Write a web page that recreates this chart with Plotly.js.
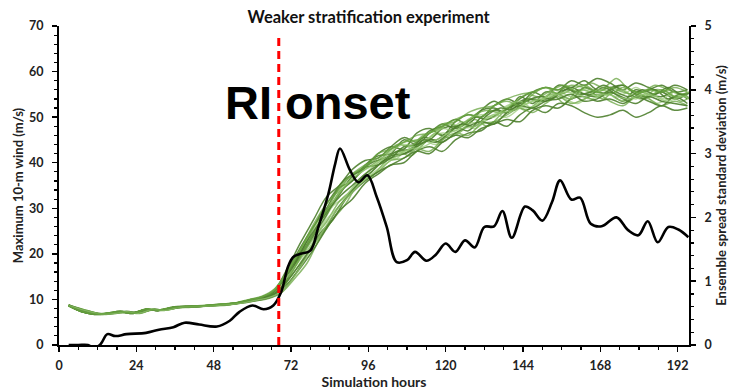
<!DOCTYPE html>
<html>
<head>
<meta charset="utf-8">
<script src="https://cdn.plot.ly/plotly-3.0.1.min.js"></script>
<style>html,body{margin:0;padding:0;background:#fff;}#chart{width:730px;height:391px;}</style>
</head>
<body>
<div id="chart"></div>
<script>
// Ensemble member output hours (two output schedules)
const memberHoursA = [3,7,11,15,19,23,27,31,35,39,43,47,51,55,59,63,67,71,75,79,83,87,91,95,99,103,107,111,115,119,123,127,131,135,139,143,147,151,155,159,163,167,171,175,179,183,187,191,195];
const memberHoursB = [3,9,13,17,21,25,29,33,37,41,45,49,53,57,61,65,69,73,77,81,85,89,93,97,101,105,109,113,117,121,125,129,133,137,141,145,149,153,157,161,165,169,173,177,181,185,189,193,197];

// Maximum 10-m wind of each ensemble member (left axis, m/s)
const m1  = [8.6,7.3,6.8,7.0,7.4,6.9,7.9,7.5,8.3,8.5,8.4,8.8,9.0,9.1,9.9,10.6,12.0,16.5,21.5,26.0,30.0,34.5,36.0,39.5,41.5,42.0,45.0,44.0,46.5,48.5,47.5,49.0,51.5,52.0,51.0,54.5,53.0,55.5,55.0,54.0,56.5,55.5,55.0,53.5,56.0,55.0,54.5,55.5,54.0];
const m2  = [8.8,7.5,6.7,6.9,7.2,7.1,7.7,7.7,8.1,8.3,8.6,8.6,8.8,9.3,9.7,10.2,11.5,14.5,18.0,23.5,27.5,31.0,35.5,37.0,40.0,42.5,41.5,44.0,46.5,45.5,47.0,49.5,48.0,50.5,52.5,51.5,53.5,55.0,53.0,56.0,55.5,54.0,56.5,55.0,54.0,56.0,55.5,53.5,55.0];
const m3  = [8.7,7.4,6.9,6.8,7.3,7.0,7.8,7.6,8.2,8.4,8.5,8.7,9.0,9.2,9.8,10.5,12.2,17.0,22.5,27.5,32.5,35.0,38.5,40.5,41.0,43.5,45.5,44.5,47.0,48.0,49.5,48.5,51.5,53.5,52.0,54.0,55.5,54.5,57.0,56.5,58.0,56.0,56.5,57.0,55.5,56.0,57.0,55.5,56.0];
const m4  = [8.6,7.4,6.8,6.9,7.4,6.9,7.8,7.7,8.2,8.5,8.4,8.7,8.9,9.1,9.6,10.1,11.2,13.5,17.0,21.0,25.5,29.5,32.0,35.5,37.5,39.5,40.0,42.5,43.5,42.5,45.0,46.5,47.0,49.0,48.0,50.5,52.0,51.0,53.0,52.5,51.0,50.0,50.5,51.5,50.0,51.0,52.5,51.5,52.0];
const m5  = [8.7,7.3,6.8,7.0,7.2,7.1,7.8,7.6,8.3,8.3,8.6,8.8,8.9,9.3,9.9,10.7,12.5,16.0,20.5,25.5,30.5,32.5,36.0,38.0,40.5,41.0,44.5,45.0,44.0,46.5,49.0,47.5,49.5,51.0,53.0,52.0,53.0,55.5,54.0,53.0,55.0,56.0,54.0,53.5,55.5,53.0,54.0,55.0,53.0];
const m6  = [8.8,7.5,6.8,6.9,7.3,7.0,7.7,7.6,8.2,8.4,8.5,8.7,8.9,9.2,9.8,10.4,11.9,15.5,19.5,24.0,28.5,33.5,36.0,39.0,42.0,43.5,43.0,46.5,47.5,46.0,49.0,50.5,50.0,52.5,54.0,53.0,55.5,56.5,56.0,58.0,57.0,58.5,57.5,56.0,57.5,56.5,55.5,57.0,56.0];
const m7  = [8.6,7.4,6.7,6.8,7.3,7.0,7.9,7.6,8.1,8.4,8.5,8.6,8.8,9.1,9.7,10.3,11.4,14.8,19.0,23.5,27.0,31.5,34.0,36.5,38.0,40.5,41.0,43.0,42.5,45.0,46.5,46.0,48.5,49.0,50.5,52.0,51.0,53.0,54.5,53.0,54.0,55.0,53.5,52.5,54.5,54.0,52.5,53.5,52.5];
const m8  = [8.7,7.4,6.9,7.0,7.4,7.0,7.8,7.7,8.2,8.5,8.6,8.8,9.0,9.3,10.0,10.8,12.6,17.5,23.0,28.5,33.0,36.5,38.0,40.0,41.0,42.5,43.0,45.5,45.0,47.0,48.5,50.0,49.5,51.0,52.5,54.0,53.5,54.5,56.0,55.5,55.0,56.5,55.0,54.0,55.5,56.0,54.0,55.0,53.5];
const m9  = [8.8,7.4,6.8,6.9,7.2,7.0,7.7,7.6,8.2,8.3,8.5,8.7,8.9,9.2,9.8,10.4,11.7,15.0,19.0,22.5,27.5,30.5,34.5,37.5,40.0,41.5,42.5,43.5,45.5,46.5,46.0,48.5,49.0,50.5,50.0,52.0,53.5,54.0,55.5,54.5,55.0,56.0,55.5,55.0,56.5,55.0,55.5,54.5,55.5];
const m10 = [8.7,7.3,6.8,6.9,7.3,7.1,7.8,7.6,8.2,8.4,8.5,8.7,8.9,9.2,9.8,10.5,12.0,16.0,20.0,24.5,29.5,33.0,37.0,39.0,39.5,41.0,43.5,44.0,45.0,47.5,48.0,47.0,50.0,51.5,51.0,53.0,54.0,53.5,55.0,56.5,55.0,54.5,56.0,57.0,55.0,54.5,55.5,54.0,55.0];
const m11 = [8.6,7.5,6.8,7.0,7.3,6.9,7.8,7.7,8.3,8.4,8.6,8.7,8.9,9.3,9.9,10.6,12.1,16.8,22.0,27.0,31.0,35.0,37.5,39.5,41.5,44.0,43.5,46.0,47.0,48.5,48.0,50.5,51.5,51.0,53.0,55.0,54.5,56.0,57.0,55.5,57.5,56.5,58.5,56.0,55.5,57.0,56.0,55.0,56.0];
const m12 = [8.7,7.4,6.7,6.9,7.2,7.0,7.7,7.6,8.1,8.3,8.4,8.6,8.8,9.1,9.6,10.2,11.3,14.2,18.0,22.0,26.0,30.5,33.5,36.0,38.0,39.5,41.0,42.5,42.0,44.5,46.0,45.5,47.5,48.5,49.5,49.0,51.5,52.5,52.0,54.0,54.5,53.5,54.0,53.0,54.5,53.5,52.5,54.5,53.0];
const m13 = [8.7,7.4,6.8,6.9,7.3,7.0,7.8,7.6,8.2,8.4,8.5,8.8,9.0,9.3,9.9,10.5,12.3,16.2,21.0,25.5,29.0,33.5,36.5,38.5,40.0,42.5,44.0,43.5,45.5,47.5,47.0,49.5,50.5,50.0,52.5,53.5,52.0,54.5,55.0,54.0,56.0,54.5,55.0,56.0,54.0,55.5,54.0,55.5,54.5];
const m14 = [8.8,7.4,6.8,6.9,7.3,7.1,7.8,7.7,8.2,8.4,8.5,8.7,8.9,9.2,9.7,10.3,11.6,15.2,19.8,24.5,27.5,32.0,35.5,38.0,40.5,41.5,42.5,45.0,44.5,46.5,48.5,48.0,50.5,52.0,51.5,53.5,54.5,54.0,56.5,55.0,55.5,57.0,55.5,54.5,56.0,55.0,56.5,55.0,55.5];
const m15 = [8.6,7.3,6.8,7.0,7.4,7.0,7.9,7.7,8.3,8.5,8.6,8.8,9.0,9.3,10.0,10.7,12.4,16.5,21.0,26.0,29.5,34.5,37.5,39.5,41.0,43.0,44.5,45.0,46.5,48.0,49.5,50.5,50.0,52.5,53.5,52.5,55.0,56.5,55.0,56.0,57.0,55.5,55.0,56.5,55.5,54.5,56.0,54.5,55.0];
const m16 = [8.7,7.4,6.8,6.9,7.3,7.0,7.8,7.6,8.2,8.4,8.5,8.7,8.9,9.2,9.8,10.4,11.8,15.8,20.5,25.0,29.0,32.5,35.0,37.5,39.5,41.5,42.0,43.5,45.0,44.5,46.5,48.0,49.0,48.5,51.0,52.5,52.0,53.5,54.0,55.0,53.5,54.0,55.5,54.0,53.0,54.5,53.5,53.0,52.5];
const m17 = [8.7,7.4,6.8,6.9,7.3,7.0,7.8,7.6,8.2,8.4,8.5,8.7,8.9,9.2,9.8,10.4,11.6,15.0,19.5,24.0,28.5,32.0,35.0,37.5,39.5,41.5,43.0,43.5,45.0,46.5,47.5,48.0,50.0,51.0,51.5,53.0,54.0,54.5,55.5,55.0,54.0,55.0,54.5,54.0,55.0,54.5,53.5,54.5,54.0];
const m18 = [8.6,7.4,6.8,7.0,7.3,7.0,7.8,7.7,8.2,8.4,8.5,8.7,9.0,9.2,9.9,10.5,12.0,16.0,21.0,26.5,31.0,34.0,37.5,39.0,42.0,43.0,44.5,46.0,46.5,48.5,49.0,51.0,52.0,52.5,54.0,55.0,55.5,56.5,56.0,57.0,56.5,55.5,56.5,55.5,55.0,56.0,55.5,56.5,55.5];

// Ensemble spread standard deviation (right axis, m/s)
const spreadHours = [3,6,9,11,13,15,17.5,21,27,31,35.5,39,43.5,49,53,56,60,63.5,66.5,69,71,72.7,75,78,80.5,83.6,85.7,87.2,90.3,92.9,95.7,98.6,101.7,104.8,108,110.5,114,117,120,123,126,129,132,135,137.6,140.5,144.6,147,150,153,155.5,159,161.7,165,168.4,173,176.6,179.8,182.7,185.8,189.1,192.2,195.3];
const spreadValues = [0.0,0.0,0.0,-0.05,0.02,0.17,0.14,0.17,0.19,0.24,0.28,0.35,0.32,0.29,0.38,0.52,0.62,0.56,0.62,0.84,1.22,1.38,1.43,1.48,1.85,2.37,2.84,3.08,2.74,2.55,2.66,2.32,1.85,1.30,1.33,1.46,1.32,1.42,1.59,1.46,1.64,1.53,1.85,1.86,2.10,1.68,2.17,2.11,1.95,2.24,2.58,2.28,2.31,1.90,1.86,2.00,1.80,1.72,1.94,1.61,1.85,1.81,1.69];

const riOnsetHour = 68.2;
const xTicks = [0,24,48,72,96,120,144,168,192];

const members = [m1,m2,m3,m4,m5,m6,m7,m8,m9,m10,m11,m12,m13,m14,m15,m16,m17,m18];
const DARK = 'rgba(78,128,46,0.9)', MID = 'rgba(104,164,64,0.75)', LIGHT = 'rgba(150,200,115,0.7)';
const memberColors = [DARK, MID, DARK, DARK, LIGHT, DARK, MID, DARK, LIGHT, DARK, MID, DARK, LIGHT, DARK, MID, DARK, LIGHT, MID];

const traces = members.map((m, i) => ({
  x: (i % 3 === 1) ? memberHoursB : memberHoursA, y: m, type: 'scatter', mode: 'lines',
  line: {color: memberColors[i], width: 1.5, shape: 'spline', smoothing: 1},
  hoverinfo: 'skip', showlegend: false, yaxis: 'y'
}));
traces.push({
  x: spreadHours, y: spreadValues, type: 'scatter', mode: 'lines',
  line: {color: '#000', width: 2.6, shape: 'spline', smoothing: 1},
  showlegend: false, yaxis: 'y2'
});

const tickFont = {family: 'Lato, "Open Sans", sans-serif', size: 12.5, color: '#222', weight: 'bold'};
const yTitleFont = {family: 'Lato, "Open Sans", sans-serif', size: 13, color: '#222', weight: 'bold'};
const xTitleFont = {family: 'Lato, "Open Sans", sans-serif', size: 14, color: '#222', weight: 'bold'};

const layout = {
  width: 730, height: 391,
  margin: {l: 59, r: 41, t: 26, b: 46, pad: 0},
  paper_bgcolor: '#fff', plot_bgcolor: '#fff',
  showlegend: false,
  title: {text: 'Weaker stratification experiment', x: 0.505, xref: 'container', y: 0.955, yanchor: 'middle',
          font: {family: 'Lato, "Open Sans", sans-serif', size: 16.5, color: '#111', weight: 'bold'}},
  xaxis: {
    range: [0, 195.5], tickvals: xTicks, ticks: 'outside', ticklen: 5, tickwidth: 1.5, tickcolor: '#000',
    showline: true, linecolor: '#000', linewidth: 2, showgrid: false, zeroline: false,
    tickfont: tickFont, ticklabelstandoff: 3,
    minor: {dtick: 6, tick0: 0, ticks: 'outside', ticklen: 3, tickwidth: 1.2, tickcolor: '#000', showgrid: false},
    title: {text: 'Simulation hours', font: xTitleFont, standoff: 5}
  },
  yaxis: {
    range: [0, 70], dtick: 10, ticks: 'outside', ticklen: 5, tickwidth: 1.5, tickcolor: '#000',
    showline: true, linecolor: '#000', linewidth: 2, showgrid: false, zeroline: false,
    tickfont: tickFont, ticklabelstandoff: 6,
    minor: {dtick: 2, ticks: 'outside', ticklen: 3, tickwidth: 1.2, tickcolor: '#000', showgrid: false},
    title: {text: 'Maximum 10-m wind (m/s)', font: yTitleFont, standoff: 2}
  },
  yaxis2: {
    overlaying: 'y', side: 'right', anchor: 'x',
    range: [0, 5], dtick: 1, ticks: 'outside', ticklen: 5, tickwidth: 1.5, tickcolor: '#000',
    showline: true, linecolor: '#000', linewidth: 2, showgrid: false, zeroline: false,
    tickfont: tickFont, ticklabelstandoff: 6,
    minor: {dtick: 0.2, ticks: 'outside', ticklen: 3, tickwidth: 1.2, tickcolor: '#000', showgrid: false},
    title: {text: 'Ensemble spread standard deviation (m/s)', font: yTitleFont, standoff: 6}
  },
  shapes: [{
    type: 'line', xref: 'x', yref: 'y', x0: riOnsetHour, x1: riOnsetHour, y0: 0, y1: 67.5,
    line: {color: '#ff0000', width: 3, dash: '8px,5px'}
  }],
  annotations: [{
    text: '<b>RI onset</b>', xref: 'paper', yref: 'paper', x: 0.411, y: 0.76,
    xanchor: 'center', yanchor: 'middle', showarrow: false,
    font: {family: '"Liberation Sans", Arial, sans-serif', size: 47, color: '#000'}
  }]
};

Plotly.newPlot('chart', traces, layout, {displayModeBar: false, staticPlot: true});
</script>
</body>
</html>
